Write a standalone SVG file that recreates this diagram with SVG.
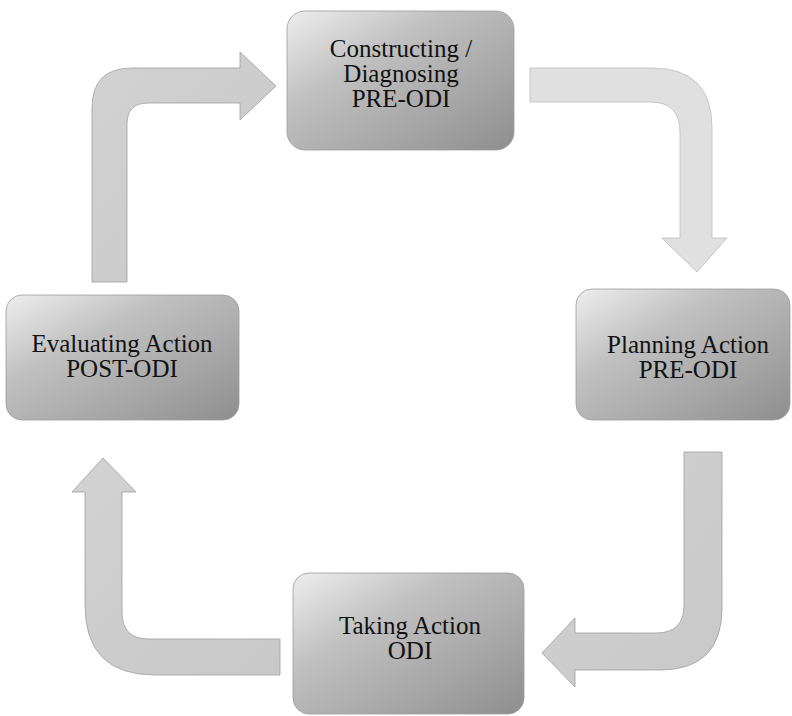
<svg xmlns="http://www.w3.org/2000/svg" width="792" height="716" viewBox="0 0 792 716">
  <defs>
    <linearGradient id="boxFill" x1="0" y1="0" x2="1" y2="1">
      <stop offset="0" stop-color="#eeeeee"/>
      <stop offset="0.35" stop-color="#c0c0c0"/>
      <stop offset="0.7" stop-color="#a6a6a6"/>
      <stop offset="1" stop-color="#8e8e8e"/>
    </linearGradient>
    <linearGradient id="arrowFill" x1="0" y1="0" x2="1" y2="1">
      <stop offset="0" stop-color="#d2d2d2"/>
      <stop offset="1" stop-color="#c8c8c8"/>
    </linearGradient>
    <style>
      .box { fill: url(#boxFill); stroke: #9c9c9c; stroke-width: 0.8; }
      .arrow { fill: url(#arrowFill); stroke: #a0a0a0; stroke-width: 0.8; stroke-linejoin: round; }
      .arrow.light { fill: #e0e0e0; stroke: #bcbcbc; }
      .label { font-family: "Liberation Serif", "DejaVu Serif", serif; font-size: 25px; fill: #111; text-anchor: middle; }
    </style>
  </defs>

  <rect width="792" height="716" fill="#ffffff"/>

  <!-- curved block arrows linking the four stages -->
  <g id="connectors">
    <!-- Evaluating -> Constructing -->
    <path class="arrow" d="M92,282 L92,108 Q92,68 132,68 L240,68 L240,52 L276,86 L240,120 L240,103 L148,103 Q127,103 127,124 L127,282 Z"/>
    <!-- Constructing -> Planning -->
    <path class="arrow light" d="M530,68 L652,68 Q712,68 712,128 L712,238 L727,238 L697,272 L662,238 L680,238 L680,132 Q680,102 650,102 L530,102 Z"/>
    <!-- Planning -> Taking -->
    <path class="arrow" d="M684,452 L722,452 L722,608 Q722,670 660,670 L575,670 L575,687 L542,653 L575,618 L575,633 L656,633 Q684,633 684,605 Z"/>
    <!-- Taking -> Evaluating -->
    <path class="arrow" d="M280,639 L280,675 L155,675 Q85,675 85,605 L85,492 L72,492 L103,458 L136,492 L122,492 L122,612 Q122,639 149,639 Z"/>
  </g>

  <g id="node-constructing">
    <rect class="box" x="287" y="11" width="227" height="139" rx="18"/>
    <text class="label" font-family="Liberation Serif, serif" x="401" y="57">Constructing /</text>
    <text class="label" font-family="Liberation Serif, serif" x="401" y="82">Diagnosing</text>
    <text class="label" font-family="Liberation Serif, serif" x="401" y="107">PRE-ODI</text>
  </g>

  <g id="node-planning">
    <rect class="box" x="576" y="289" width="214" height="131" rx="16"/>
    <text class="label" font-family="Liberation Serif, serif" x="688" y="353">Planning Action</text>
    <text class="label" font-family="Liberation Serif, serif" x="688" y="378">PRE-ODI</text>
  </g>

  <g id="node-evaluating">
    <rect class="box" x="6" y="295" width="233" height="125" rx="16"/>
    <text class="label" font-family="Liberation Serif, serif" x="122" y="352">Evaluating Action</text>
    <text class="label" font-family="Liberation Serif, serif" x="122" y="377">POST-ODI</text>
  </g>

  <g id="node-taking">
    <rect class="box" x="293" y="573" width="231" height="141" rx="16"/>
    <text class="label" font-family="Liberation Serif, serif" x="410" y="634">Taking Action</text>
    <text class="label" font-family="Liberation Serif, serif" x="410" y="659">ODI</text>
  </g>
</svg>
